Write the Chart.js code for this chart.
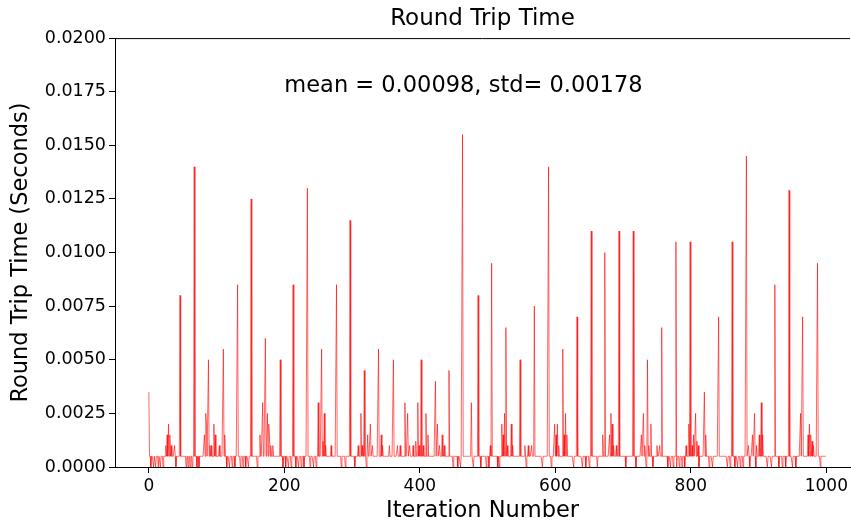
<!DOCTYPE html>
<html>
<head>
<meta charset="utf-8">
<script src="https://cdn.jsdelivr.net/npm/chart.js@4.4.1/dist/chart.umd.min.js"></script>
<style>
  html, body { margin: 0; padding: 0; overflow: hidden; background: #fff; }
  canvas { display: block; }
</style>
</head>
<body>
<canvas id="rttChart" width="851" height="523"></canvas>
<script>
// samples 0..999, most sit on the 0.0005 s floor
const sampleCount = 1000
const baseline = 0.0005
const spikeIdx = [0, 25, 27, 29, 31, 33, 38, 46, 67, 82, 84, 85, 88, 90, 92, 96, 98, 104, 110, 112,
  131, 151, 164, 168, 172, 174, 175, 177, 178, 180, 183, 194, 213, 234, 250, 255, 257, 259, 261, 269,
  277, 297, 309, 313, 315, 318, 323, 327, 330, 339, 343, 345, 355, 361, 367, 371, 378, 382, 385, 390,
  394, 397, 399, 402, 405, 409, 412, 423, 426, 429, 433, 436, 443, 463, 476, 486, 504, 506, 521, 523,
  525, 527, 529, 535, 537, 548, 555, 560, 565, 569, 590, 599, 601, 603, 605, 611, 613, 615, 617, 632,
  653, 670, 673, 680, 682, 684, 686, 690, 694, 715, 727, 730, 732, 736, 738, 741, 750, 754, 757, 778,
  793, 797, 799, 802, 804, 807, 809, 811, 820, 822, 841, 861, 882, 885, 891, 894, 897, 901, 904, 906,
  924, 945, 962, 965, 973, 975, 977, 979, 981, 987]
const spikeVal = [0.0035, 0.001, 0.0015, 0.002, 0.0015, 0.001, 0.001, 0.008, 0.014, 0.0015, 0.0025, 0.002, 0.005, 0.001, 0.001, 0.002, 0.0015, 0.001, 0.0055, 0.0015,
  0.0085, 0.0125, 0.0015, 0.003, 0.006, 0.0012, 0.0025, 0.002, 0.0015, 0.001, 0.001, 0.005, 0.0085, 0.013, 0.003, 0.0055, 0.0012, 0.0025, 0.001, 0.001,
  0.0085, 0.0115, 0.001, 0.0025, 0.001, 0.0045, 0.0015, 0.002, 0.001, 0.0055, 0.0015, 0.001, 0.001, 0.005, 0.001, 0.001, 0.003, 0.0025, 0.001, 0.001,
  0.0012, 0.003, 0.001, 0.005, 0.001, 0.0025, 0.0015, 0.004, 0.002, 0.001, 0.0015, 0.001, 0.0045, 0.0155, 0.003, 0.008, 0.001, 0.0095, 0.002, 0.0015,
  0.0025, 0.0065, 0.001, 0.002, 0.001, 0.005, 0.001, 0.001, 0.001, 0.0075, 0.014, 0.002, 0.0015, 0.002, 0.001, 0.0055, 0.0015, 0.0025, 0.0015, 0.007,
  0.011, 0.0015, 0.01, 0.0015, 0.0025, 0.002, 0.001, 0.001, 0.011, 0.011, 0.0015, 0.0025, 0.001, 0.005, 0.001, 0.002, 0.001, 0.001, 0.0065, 0.0105,
  0.001, 0.002, 0.0105, 0.001, 0.0015, 0.0025, 0.0012, 0.001, 0.0035, 0.0015, 0.007, 0.0105, 0.0145, 0.001, 0.0015, 0.0025, 0.001, 0.0015, 0.003, 0.0015,
  0.0085, 0.0129, 0.0025, 0.007, 0.0015, 0.002, 0.0015, 0.0012, 0.001, 0.0095]
// samples that drop to 0
const dipIdx = [3, 7, 10, 14, 17, 21, 40, 55, 58, 61, 64, 71, 74, 115, 119, 123, 127, 135, 139, 143,
  147, 160, 198, 202, 206, 210, 217, 221, 225, 229, 238, 243, 247, 284, 290, 304, 321, 449, 456, 460,
  479, 490, 498, 502, 515, 517, 557, 581, 594, 627, 640, 645, 650, 662, 704, 719, 734, 744, 766, 770,
  774, 779, 783, 787, 791, 812, 827, 832, 854, 858, 865, 869, 873, 877, 887, 896, 913, 919, 930, 935,
  940, 950, 955, 991]

const xTicks = [0, 200, 400, 600, 800, 1000]
const yTicks = [0, 0.0025, 0.005, 0.0075, 0.01, 0.0125, 0.015, 0.0175, 0.02]
const statsText = 'mean = 0.00098, std= 0.00178'

const rtt = new Array(sampleCount).fill(baseline)
spikeIdx.forEach((k, j) => { rtt[k] = spikeVal[j] })
dipIdx.forEach(k => { rtt[k] = 0 })

Chart.defaults.font.family = '"DejaVu Sans", sans-serif'
Chart.defaults.color = '#000'

// top spine (the right one is cut off in the original) + stats text at data (200, 0.0175)
const frameAndText = {
  id: 'frameAndText',
  afterDraw(chart) {
    const { ctx, chartArea: a, scales: { x, y } } = chart
    ctx.save()
    ctx.strokeStyle = '#000'
    ctx.lineWidth = 1
    ctx.beginPath()
    ctx.moveTo(a.left, a.top + 0.5)
    ctx.lineTo(a.right, a.top + 0.5)
    ctx.stroke()
    ctx.fillStyle = '#000'
    ctx.font = '22.5px "DejaVu Sans"'
    ctx.textAlign = 'left'
    ctx.textBaseline = 'alphabetic'
    ctx.fillText(statsText, x.getPixelForValue(200), y.getPixelForValue(0.0175))
    ctx.restore()
  }
}

new Chart(document.getElementById('rttChart'), {
  type: 'line',
  data: {
    datasets: [{
      data: rtt.map((v, i) => ({ x: i, y: v })),
      borderColor: 'rgba(255, 0, 0, 0.75)',
      borderWidth: 0.8,
      pointRadius: 0,
      tension: 0,
      fill: false
    }]
  },
  options: {
    responsive: false,
    animation: false,
    events: [],
    layout: { padding: 0 },
    plugins: {
      legend: { display: false },
      tooltip: { enabled: false },
      title: {
        display: true,
        text: 'Round Trip Time',
        fullSize: false,
        font: { size: 23, weight: 'normal' },
        padding: { top: 5.5, bottom: 5 }
      }
    },
    scales: {
      x: {
        type: 'linear',
        min: -49.95,
        max: 1035, // original axis runs past the right edge of the picture
        afterFit: s => { s.height = 56 },
        afterBuildTicks: s => { s.ticks = xTicks.map(v => ({ value: v })) },
        grid: { drawOnChartArea: false, tickLength: 6, color: '#000' },
        border: { color: '#000' },
        ticks: { font: { size: 17 }, padding: 3, maxRotation: 0, callback: v => String(v) },
        title: {
          display: true,
          text: 'Iteration Number',
          font: { size: 22.5, lineHeight: 1 },
          padding: { top: 0, bottom: 1 }
        }
      },
      y: {
        min: 0,
        max: 0.02,
        afterFit: s => { s.width = 115 },
        afterBuildTicks: s => { s.ticks = yTicks.map(v => ({ value: v })) },
        grid: { drawOnChartArea: false, tickLength: 6, color: '#000' },
        border: { color: '#000' },
        ticks: { font: { size: 17.5 }, padding: 3, callback: v => v.toFixed(4) },
        title: {
          display: true,
          text: 'Round Trip Time (Seconds)',
          font: { size: 22.5, lineHeight: 1.2 },
          padding: { top: 8, bottom: 0 }
        }
      }
    }
  },
  plugins: [frameAndText]
})
</script>
</body>
</html>
